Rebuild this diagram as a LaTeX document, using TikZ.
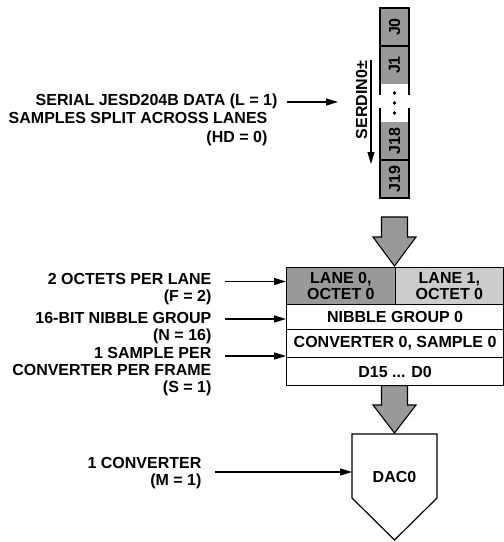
\documentclass[tikz,border=0pt]{standalone}
\usepackage{fontspec}
\setmainfont{Liberation Sans}
\usetikzlibrary{arrows.meta}
\definecolor{midgray}{RGB}{153,153,153}
\definecolor{ltgray}{RGB}{204,204,204}
\begin{document}
\begin{tikzpicture}[x=1pt,y=-1pt, line width=1.2pt, line join=miter,
  lbl/.style={font=\bfseries\fontsize{16}{17}\selectfont, align=right, inner sep=0pt, anchor=east},
  rowcell/.style={draw, inner sep=0pt, font=\bfseries\fontsize{16}{16}\selectfont, align=center, anchor=north west, minimum height=#1},
  jc/.style={fill=midgray, rotate=90, minimum width=38pt, minimum height=29pt, inner sep=0pt, font=\bfseries\fontsize{16}{16}\selectfont},
  arr/.style={-{Triangle[length=12pt,width=7pt]}, line width=1.2pt},
  bigarrow/.style={fill=midgray, draw=black, line width=1.1pt}]
\useasboundingbox (0,0) rectangle (504,542);

% serial lane column
\node[jc] (j0) at (394.5,27) {J0};
\node[jc] (j1) at (394.5,65) {J1};
\node[jc] (j18) at (394.5,141) {J18};
\node[jc] (j19) at (394.5,179) {J19};
\draw (380,95) |- (409,8) -- (409,95);
\draw (380,108) |- (409,198) -- (409,108);
\draw (380,46) -- (409,46);
\draw (380,160) -- (409,160);
\fill (394.5,93) circle (1.8);
\fill (394.5,103) circle (1.8);
\fill (394.5,113) circle (1.8);

% SERDIN label and arrow
\node[font=\bfseries\fontsize{16}{16}\selectfont, rotate=90, inner sep=0pt] (serdin) at (361.5,100) {SERDIN0±};
\coordinate (sd1) at (371,60);
\coordinate (sd2) at (371,164);
\draw[arr] (sd1) -- (sd2);

% serial label
\node[lbl, font=\bfseries\fontsize{16}{18.5}\selectfont] (lser) at (278,119.5) {SERIAL JESD204B DATA (L = 1)\\SAMPLES SPLIT ACROSS LANES\rule{10pt}{0pt}\\(HD = 0)\rule{10pt}{0pt}};
\coordinate (s1) at (287,102);
\coordinate (s2) at (338,102);
\draw[arr] (s1) -- (s2);

% big arrow 1
\draw[bigarrow] (381.5,217) -- (407.5,217) -- (407.5,237) -- (416,237) -- (394.5,266) -- (373,237) -- (381.5,237) -- cycle;

% frame box
\node[rowcell=37pt, minimum width=108.5pt, fill=midgray] (lane0) at (286,267) {LANE 0,\\OCTET 0};
\node[rowcell=37pt, minimum width=108.5pt, fill=ltgray] (lane1) at (394.5,267) {LANE 1,\\OCTET 0};
\node[rowcell=25pt, minimum width=217pt] (nib) at (286,304) {NIBBLE GROUP 0};
\node[rowcell=28pt, minimum width=217pt] (conv) at (286,329) {CONVERTER 0, SAMPLE 0};
\node[rowcell=28pt, minimum width=217pt] (dbits) at (286,357) {D15 ... D0};

% labels
\node[lbl] (lf) at (212,289.5) {2 OCTETS PER LANE\\(F = 2)};
\coordinate (fa) at (225,281.5);
\draw[arr] (fa) -- (fa -| lane0.west);
\node[lbl] (ln) at (212,328) {16-BIT NIBBLE GROUP\\(N = 16)};
\coordinate (na) at (225,319);
\draw[arr] (na) -- (na -| nib.west);
\node[lbl] (ls) at (212,371.7) {1 SAMPLE PER\\CONVERTER PER FRAME\\(S = 1)};
\coordinate (sa) at (225,356);
\draw[arr] (sa) -- (sa -| conv.west);

% big arrow 2
\draw[bigarrow] (381.5,385.6) -- (407.5,385.6) -- (407.5,405) -- (416,405) -- (394.5,433) -- (373,405) -- (381.5,405) -- cycle;

% DAC
\draw (352,434) -- (437,434) -- (437,498) -- (394.5,540) -- (352,498) -- cycle;
\node[font=\bfseries\fontsize{16}{16}\selectfont, inner sep=0pt] (dac) at (394.5,477) {DAC0};
\coordinate (dacw) at (352,472);
\node[lbl] (lm) at (202,473.5) {1 CONVERTER\\(M = 1)};
\coordinate (ma) at (215,472);
\draw[arr] (ma) -- (dacw);
\end{tikzpicture}
\end{document}
